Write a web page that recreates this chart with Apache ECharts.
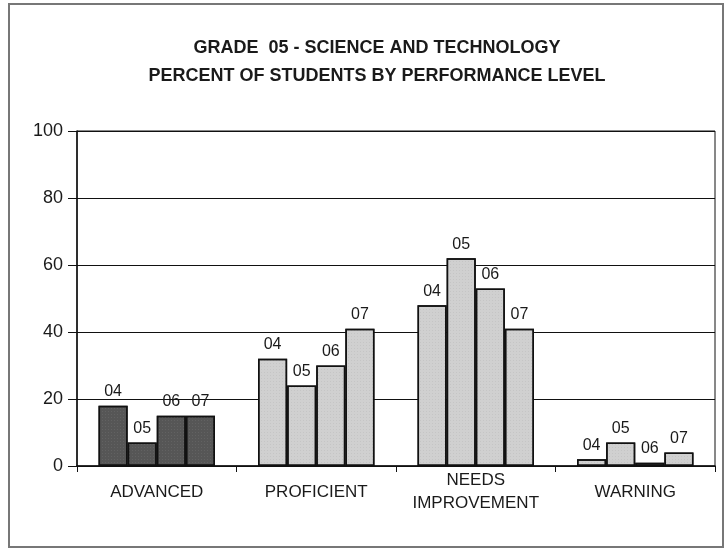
<!DOCTYPE html>
<html>
<head>
<meta charset="utf-8">
<script src="https://cdn.jsdelivr.net/npm/echarts@6/dist/echarts.min.js"></script>
<style>
    html, body { margin: 0; padding: 0; background: #fff; }
    #chart { width: 728px; height: 552px; }
</style>
</head>
<body>
<div id="chart"></div>
<script>
    // levels on the x axis, one bar per school year in each
    const levels = ['ADVANCED', 'PROFICIENT', 'NEEDS\nIMPROVEMENT', 'WARNING'];
    const years = ['04', '05', '06', '07'];
    const y04 = [18, 32, 48, 2];
    const y05 = [7, 24, 62, 7];
    const y06 = [15, 30, 53, 1];
    const y07 = [15, 41, 41, 4];
    const yTicks = [0, 20, 40, 60, 80, 100];

    const font = '"Liberation Sans Narrow", "Liberation Sans", Arial, sans-serif';
    const chart = echarts.init(document.getElementById('chart'));

    // dark speckle for ADVANCED, light speckle for the rest
    const darkStyle = {
        color: '#565656',
        decal: { symbol: 'rect', symbolSize: 0.6, dashArrayX: [1, 2], dashArrayY: [1, 2], color: 'rgba(255,255,255,0.25)' }
    };
    const lightStyle = {
        color: '#d0d0d0',
        decal: { symbol: 'rect', symbolSize: 0.6, dashArrayX: [1, 2], dashArrayY: [1, 2], color: 'rgba(0,0,0,0.18)' }
    };

    function mkSeries(name, data) {
        return {
            name: name,
            type: 'bar',
            data: data.map((v, i) => ({ value: v, itemStyle: i === 0 ? darkStyle : lightStyle })),
            barGap: 0,
            barCategoryGap: '27%',
            itemStyle: { borderColor: '#111', borderWidth: 1.5 },
            label: {
                show: true,
                position: 'top',
                distance: 6,
                formatter: name,
                fontFamily: font,
                fontSize: 16,
                color: '#1a1a1a'
            }
        };
    }

    const option = {
        backgroundColor: '#fff',
        animation: false,
        aria: { enabled: true, decal: { show: true } },
        title: {
            text: 'GRADE  05 - SCIENCE AND TECHNOLOGY\nPERCENT OF STUDENTS BY PERFORMANCE LEVEL',
            left: 372,
            top: 29,
            textAlign: 'center',
            textStyle: {
                fontFamily: font,
                fontWeight: 'bold',
                fontSize: 18,
                lineHeight: 28,
                color: '#1a1a1a'
            }
        },
        graphic: [{
            type: 'rect',
            shape: { x: 9, y: 4, width: 714, height: 543 },
            style: { fill: 'none', stroke: '#777', lineWidth: 2 },
            silent: true
        }],
        grid: {
            left: 77, right: 13, top: 131, bottom: 86,
            show: true, borderColor: '#111', borderWidth: 1
        },
        xAxis: {
            type: 'category',
            data: levels,
            axisLine: { lineStyle: { color: '#111', width: 1.5 } },
            axisTick: { show: true, interval: 0, length: 6, lineStyle: { color: '#111' } },
            axisLabel: {
                interval: 0,
                hideOverlap: false,
                margin: 26,
                verticalAlign: 'middle',
                fontFamily: font,
                fontSize: 17,
                lineHeight: 23,
                color: '#1a1a1a'
            }
        },
        yAxis: {
            type: 'value',
            min: yTicks[0],
            max: yTicks[yTicks.length - 1],
            interval: 20,
            axisLine: { show: true, lineStyle: { color: '#111', width: 1.5 } },
            axisTick: { show: true, length: 9, lineStyle: { color: '#111' } },
            splitLine: { lineStyle: { color: '#111', width: 1.2 } },
            axisLabel: {
                margin: 14,
                fontFamily: font,
                fontSize: 18,
                color: '#1a1a1a'
            }
        },
        series: [
            mkSeries(years[0], y04),
            mkSeries(years[1], y05),
            mkSeries(years[2], y06),
            mkSeries(years[3], y07)
        ]
    };
    chart.setOption(option);
</script>
</body>
</html>
